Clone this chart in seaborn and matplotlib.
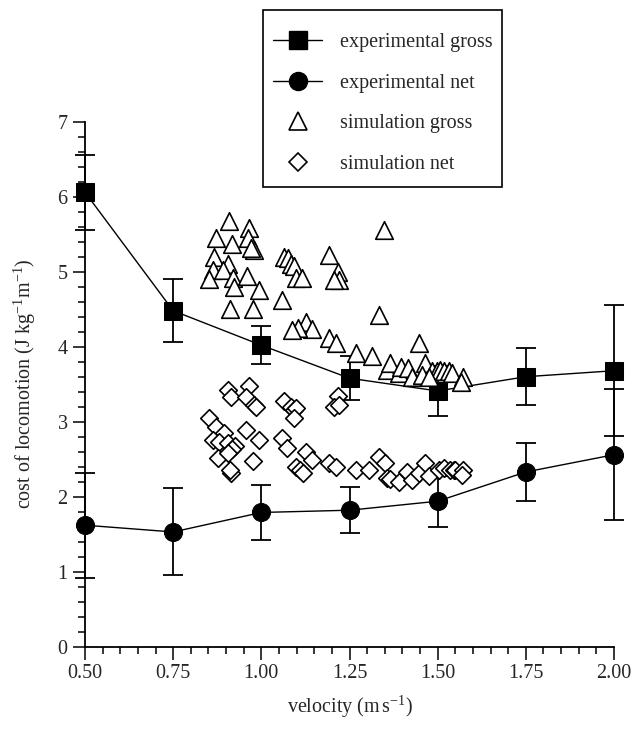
import matplotlib
matplotlib.use("Agg")
import matplotlib.pyplot as plt
import seaborn as sns
import pandas as pd
from matplotlib.lines import Line2D
from matplotlib.patches import Rectangle
from matplotlib.ticker import MultipleLocator, FormatStrFormatter

# ---- data ----
exp_velocity = [0.50, 0.75, 1.00, 1.25, 1.50, 1.75, 2.00]
exp_gross = [6.06, 4.48, 4.02, 3.58, 3.41, 3.60, 3.68]
exp_gross_err = [0.50, 0.42, 0.25, 0.29, 0.33, 0.38, 0.87]
exp_net = [1.62, 1.53, 1.79, 1.82, 1.94, 2.33, 2.56]
exp_net_err = [0.70, 0.58, 0.37, 0.31, 0.34, 0.39, 0.87]

sim_gross_v = [0.907, 0.966, 0.872, 0.917, 0.961, 0.980, 0.971, 0.867, 0.905, 0.862,
               0.891, 0.851, 0.919, 0.922, 0.960, 0.994, 0.912, 0.977, 1.060, 1.065,
               1.075, 1.085, 1.093, 1.098, 1.116, 1.192, 1.216, 1.219, 1.207, 1.126,
               1.143, 1.103, 1.088, 1.192, 1.211, 1.268, 1.313, 1.333, 1.347, 1.446,
               1.357, 1.366, 1.390, 1.395, 1.416, 1.428, 1.465, 1.484, 1.498, 1.508,
               1.517, 1.531, 1.540, 1.573, 1.567, 1.456, 1.475]
sim_gross_c = [5.68, 5.58, 5.45, 5.37, 5.45, 5.29, 5.31, 5.20, 5.10, 5.02,
               5.02, 4.90, 4.91, 4.80, 4.94, 4.75, 4.50, 4.50, 4.62, 5.20,
               5.18, 5.10, 5.07, 4.91, 4.91, 5.22, 5.00, 4.89, 4.89, 4.33,
               4.23, 4.25, 4.22, 4.11, 4.05, 3.91, 3.87, 4.42, 5.55, 4.05,
               3.69, 3.78, 3.65, 3.73, 3.71, 3.60, 3.78, 3.67, 3.67, 3.69,
               3.67, 3.67, 3.65, 3.60, 3.53, 3.62, 3.60]

sim_net_v = [0.905, 0.966, 0.914, 0.957, 0.980, 0.985, 1.065, 1.084, 1.093, 1.098,
             1.093, 1.216, 1.206, 1.219, 0.851, 0.872, 0.895, 0.862, 0.880, 0.905,
             0.924, 0.918, 0.877, 0.905, 0.914, 0.910, 0.957, 0.994, 0.975, 1.060,
             1.074, 1.126, 1.145, 1.098, 1.111, 1.117, 1.192, 1.211, 1.268, 1.333,
             1.305, 1.352, 1.357, 1.366, 1.390, 1.413, 1.428, 1.446, 1.465, 1.475,
             1.503, 1.517, 1.536, 1.545, 1.550, 1.573, 1.568]
sim_net_c = [3.42, 3.47, 3.33, 3.33, 3.22, 3.20, 3.27, 3.20, 3.16, 3.18,
             3.05, 3.34, 3.20, 3.22, 3.05, 2.93, 2.85, 2.76, 2.73, 2.71,
             2.67, 2.63, 2.51, 2.58, 2.31, 2.36, 2.89, 2.76, 2.47, 2.78,
             2.65, 2.60, 2.49, 2.40, 2.36, 2.31, 2.45, 2.40, 2.36, 2.53,
             2.36, 2.45, 2.25, 2.23, 2.20, 2.33, 2.22, 2.31, 2.45, 2.27,
             2.36, 2.38, 2.36, 2.36, 2.36, 2.36, 2.29]

legend_labels = ["experimental gross", "experimental net", "simulation gross", "simulation net"]

# ---- style ----
FS = 14.5
sns.set_style("ticks")
plt.rcParams["font.family"] = ["Liberation Serif", "DejaVu Serif"]
plt.rcParams["mathtext.fontset"] = "custom"
plt.rcParams["mathtext.rm"] = "Liberation Serif"
plt.rcParams["mathtext.it"] = "Liberation Serif:italic"
plt.rcParams["font.size"] = FS

W, H = 641, 729
fig = plt.figure(figsize=(W / 100, H / 100), dpi=100)
ax = fig.add_axes([0.1326, 0.1129, 0.8253, 0.7201])

exp_df = pd.DataFrame({"v": exp_velocity, "gross": exp_gross, "net": exp_net})

# error bars
for vals, errs in [(exp_gross, exp_gross_err), (exp_net, exp_net_err)]:
    eb = ax.errorbar(exp_velocity, vals, yerr=errs, fmt="none", ecolor="black",
                     elinewidth=1.3, capsize=7.5, capthick=1.3, zorder=2)
    for art in eb.lines[1]:
        art.set_clip_on(False)
    for art in eb.lines[2]:
        art.set_clip_on(False)

sns.lineplot(data=exp_df, x="v", y="gross", ax=ax, color="black", linewidth=1.0,
             marker="s", markersize=13, markeredgecolor="black", markerfacecolor="black",
             zorder=3, clip_on=False)
sns.lineplot(data=exp_df, x="v", y="net", ax=ax, color="black", linewidth=1.0,
             marker="o", markersize=13, markeredgecolor="black", markerfacecolor="black",
             zorder=3, clip_on=False)

sns.scatterplot(x=sim_gross_v, y=sim_gross_c, ax=ax, marker="^", s=160,
                facecolor="white", edgecolor="black", linewidth=1.2, zorder=4)
sns.scatterplot(x=sim_net_v, y=sim_net_c, ax=ax, marker="D", s=80,
                facecolor="white", edgecolor="black", linewidth=1.2, zorder=4)

ax.set_xlim(0.5, 2.0)
ax.set_ylim(0, 7)
ax.xaxis.set_major_locator(MultipleLocator(0.25))
ax.xaxis.set_minor_locator(MultipleLocator(0.05))
ax.xaxis.set_major_formatter(FormatStrFormatter("%.2f"))
ax.yaxis.set_major_locator(MultipleLocator(1))
ax.yaxis.set_minor_locator(MultipleLocator(0.2))
ax.tick_params(which="major", direction="out", length=9, width=1.1, labelsize=FS, color="black")
ax.tick_params(which="minor", direction="out", length=5, width=1.1, color="black")
for s in ["top", "right"]:
    ax.spines[s].set_visible(False)
for s in ["left", "bottom"]:
    ax.spines[s].set_linewidth(1.3)
    ax.spines[s].set_color("black")

ax.set_xlabel(r"velocity (m$\,$s$^{-1}$)", fontsize=FS, labelpad=8)
ax.set_ylabel(r"cost of locomotion (J kg$^{-1}$m$^{-1}$)", fontsize=FS, labelpad=14)

handles = [
    Line2D([], [], color="black", linewidth=1.0, marker="s", markersize=13),
    Line2D([], [], color="black", linewidth=1.0, marker="o", markersize=13),
    Line2D([], [], color="none", marker="^", markersize=12.5, markerfacecolor="white",
           markeredgecolor="black", markeredgewidth=1.2),
    Line2D([], [], color="none", marker="D", markersize=9, markerfacecolor="white",
           markeredgecolor="black", markeredgewidth=1.2),
]
# legend box drawn as a rectangle in figure pixels
fig.patches.append(Rectangle((263 / W, 1 - 187 / H), 239 / W, 177 / H,
                             transform=fig.transFigure, fill=False,
                             edgecolor="black", linewidth=1.2))
leg = fig.legend(handles, legend_labels, loc="upper left",
                 bbox_to_anchor=(273 / W, 1 - 33 / H),
                 frameon=False, handlelength=2.45, labelspacing=1.07, borderpad=0,
                 handletextpad=0.9, borderaxespad=0, fontsize=FS)

fig.savefig("out.png", dpi=100)
